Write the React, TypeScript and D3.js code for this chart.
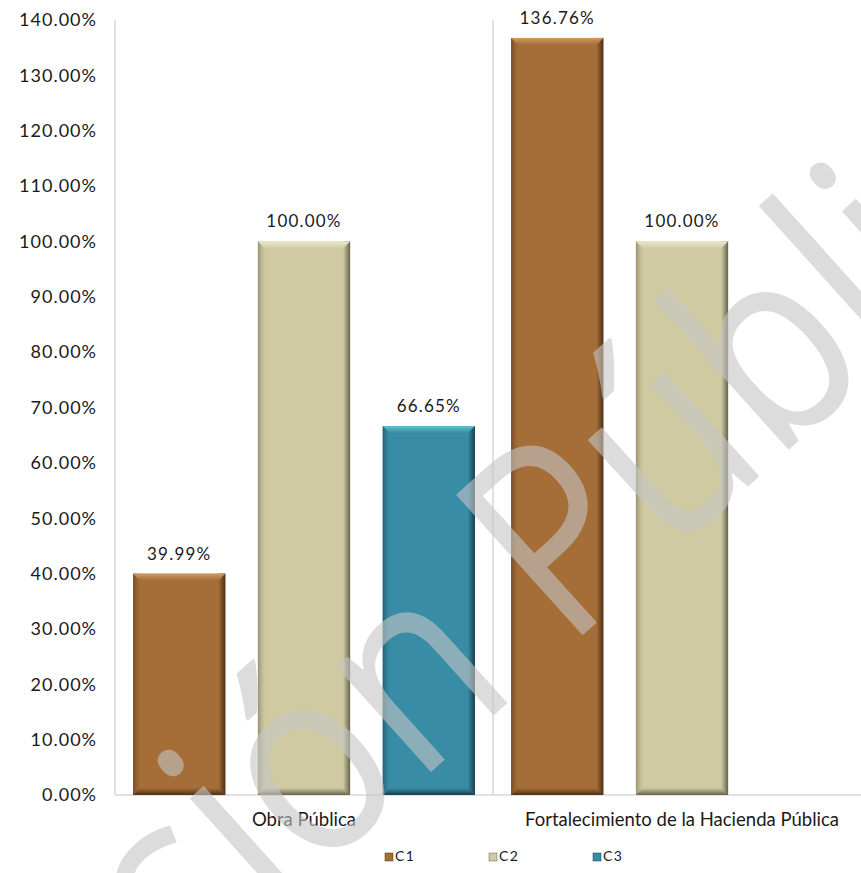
import React from 'react'
import * as d3 from 'd3'

const categories = ['Obra Pública', 'Fortalecimiento de la Hacienda Pública']
const seriesNames = ['C1', 'C2', 'C3']
const c1Values = [39.99, 136.76]
const c2Values = [100.0, 100.0]
const c3Values: (number | null)[] = [66.65, null]
const yTickValues = [0, 10, 20, 30, 40, 50, 60, 70, 80, 90, 100, 110, 120, 130, 140]

const width = 861
const height = 873

// base / light bevel / dark edge for each series
const palette = [
  { base: '#a56d38', light: '#cf9a60', dark: '#4e3016' },
  { base: '#cfcaa1', light: '#ece8cb', dark: '#66634c' },
  { base: '#388ca6', light: '#66bcd4', dark: '#163f4c' }
]

const labelFont = 'Lato, "Open Sans", sans-serif'

export default function App() {
  const x0 = d3.scaleBand().domain(categories).range([115, 871]).padding(0)
  const x1 = d3
    .scaleBand()
    .domain(seriesNames)
    .range([0, x0.bandwidth()])
    .paddingInner(0.261)
    .paddingOuter(0.145)
  const y = d3.scaleLinear().domain([0, 140]).range([795, 20])
  const fmt = (v: number) => d3.format('.2f')(v) + '%'

  const seriesValues = [c1Values, c2Values, c3Values]
  const bars: { cat: string; s: number; v: number }[] = []
  categories.forEach((cat, ci) => {
    seriesValues.forEach((vals, s) => {
      const v = vals[ci]
      if (v != null) bars.push({ cat, s, v })
    })
  })

  const bev = 7

  return (
    <svg
      width={width}
      height={height}
      style={{ position: 'absolute', left: 0, top: 0, background: '#fff' }}
    >
      <defs>
        {palette.map((p, i) => (
          <React.Fragment key={i}>
            <linearGradient id={'right' + i} x1="0" x2="1" y1="0" y2="0">
              <stop offset="0" stopColor={p.base} />
              <stop offset="1" stopColor={p.dark} />
            </linearGradient>
            <linearGradient id={'left' + i} x1="0" x2="1" y1="0" y2="0">
              <stop offset="0" stopColor={p.dark} stopOpacity={0.55} />
              <stop offset="1" stopColor={p.base} stopOpacity={0} />
            </linearGradient>
            <linearGradient id={'bottom' + i} x1="0" x2="0" y1="0" y2="1">
              <stop offset="0" stopColor={p.base} />
              <stop offset="1" stopColor={p.dark} />
            </linearGradient>
            <linearGradient id={'top' + i} x1="0" x2="0" y1="0" y2="1">
              <stop offset="0" stopColor={p.light} />
              <stop offset="1" stopColor={p.base} />
            </linearGradient>
          </React.Fragment>
        ))}
      </defs>

      {/* axes lines */}
      <line x1={115} x2={115} y1={y(140)} y2={y(0)} stroke="#d9d9d9" strokeWidth={1.5} />
      <line x1={115} x2={871} y1={y(0)} y2={y(0)} stroke="#d9d9d9" strokeWidth={1.5} />
      <line
        x1={x0(categories[1])!}
        x2={x0(categories[1])!}
        y1={y(140)}
        y2={y(0)}
        stroke="#d9d9d9"
        strokeWidth={1.5}
      />

      {/* y tick labels */}
      {yTickValues.map(t => (
        <text
          key={t}
          x={97}
          y={y(t)}
          dy="0.35em"
          textAnchor="end"
          fontFamily={labelFont}
          fontSize={18}
          letterSpacing={1}
          fill="#1a1a1a"
        >
          {fmt(t)}
        </text>
      ))}

      {/* bars */}
      {bars.map((b, i) => {
        const bx = x0(b.cat)! + x1(seriesNames[b.s])!
        const bw = x1.bandwidth()
        const by = y(b.v)
        const bh = y(0) - by
        const p = palette[b.s]
        return (
          <g key={i}>
            <rect x={bx} y={by} width={bw} height={bh} fill={p.base} />
            <rect x={bx} y={by} width={bev + 2} height={bh} fill={`url(#left${b.s})`} />
            <rect x={bx + bw - bev} y={by} width={bev} height={bh} fill={`url(#right${b.s})`} />
            <polygon
              points={`${bx + bev},${by + bh - bev} ${bx + bw - bev},${by + bh - bev} ${bx + bw},${by + bh} ${bx},${by + bh}`}
              fill={`url(#bottom${b.s})`}
            />
            <polygon
              points={`${bx},${by} ${bx + bw},${by} ${bx + bw - bev},${by + bev} ${bx + bev},${by + bev}`}
              fill={`url(#top${b.s})`}
            />
            <text
              x={bx + bw / 2}
              y={by - 14}
              textAnchor="middle"
              fontFamily={labelFont}
              fontSize={17}
              letterSpacing={1.2}
              fill="#1a1a1a"
            >
              {fmt(b.v)}
            </text>
          </g>
        )
      })}

      {/* category labels */}
      {categories.map(c => (
        <text
          key={c}
          x={x0(c)! + x0.bandwidth() / 2}
          y={826}
          textAnchor="middle"
          fontFamily={labelFont}
          fontSize={18.5}
          fill="#1a1a1a"
        >
          {c}
        </text>
      ))}

      {/* legend */}
      {seriesNames.map((s, i) => (
        <g key={s} transform={`translate(${385 + i * 104},${853})`}>
          <rect x={0} y={0} width={8} height={8} fill={palette[i].base} stroke={palette[i].dark} strokeWidth={0.5} />
          <text x={10} y={8} fontFamily={labelFont} fontSize={14} letterSpacing={1.5} fill="#1a1a1a">
            {s}
          </text>
        </g>
      ))}

      {/* watermark */}
      <g transform="translate(-80,1232) rotate(-42) scale(0.87,1)" style={{ pointerEvents: 'none' }}>
        <text
          x={0}
          y={0}
          fontFamily='"Open Sans", sans-serif'
          fontSize={265}
          fill="#c4c4c4"
          fillOpacity={0.6}
        >
          Versión Pública
        </text>
      </g>
    </svg>
  )
}
